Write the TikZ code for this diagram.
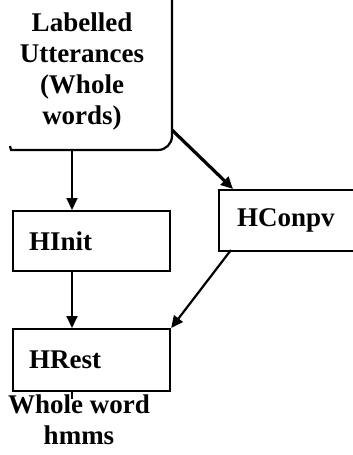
\documentclass[tikz,border=0pt]{standalone}
\usepackage{fontspec}
\setmainfont{Liberation Serif}
\usetikzlibrary{arrows.meta,calc}
\begin{document}
\begin{tikzpicture}[x=1pt,y=-1pt,
  lbl/.style={font=\fontsize{27}{31}\selectfont\bfseries},
  procbox/.style={draw,line width=2.2pt,rectangle,inner sep=0pt,lbl,align=left,anchor=north west},
  arr/.style={line width=1.8pt,-{Triangle[width=11pt,length=12pt]}},
  thickarr/.style={line width=3.2pt,-{Triangle[width=11pt,length=12pt]}},
  midarr/.style={line width=2.2pt,-{Triangle[width=11pt,length=12pt]}}]
\useasboundingbox (0,0) rectangle (353,455);
% top (partly visible) box
\node[lbl,align=center,anchor=north] (lab) at (82,9) {Labelled\\Utterances\\(Whole\\words)};
\coordinate (labbot) at (72,150);
\coordinate (labcorner) at (172,130);
\draw[line width=2.2pt] (10,146) -- (11,150) -- (158,150) arc[start angle=90,end angle=0,radius=14] -- (172,0);
% process boxes
\node[procbox,minimum width=141,minimum height=60,text width=125,inner xsep=16] (hinit) at (12,210) {HInit};
\node[procbox,minimum width=141,minimum height=62,text width=125,inner xsep=16] (hrest) at (12,328) {HRest};
\node[procbox,minimum width=142,minimum height=61,text width=124,inner xsep=18] (hcompv) at (218,189) {HConpv};
\coordinate (hcompvtop) at (233,189);
\coordinate (hcompvbot) at (231,250);
% output label
\node[lbl,align=center,anchor=north] (out) at (79,391) {Whole word\\hmms};
% connectors
\draw[arr] (labbot) -- (hinit.north -| labbot);
\draw[arr] (hinit.south -| labbot) -- (hrest.north -| labbot);
\draw[thickarr] (labcorner) -- (hcompvtop);
\draw[midarr] (hcompvbot) -- (hrest.north east);
\draw[line width=1.4pt] (hrest.south -| labbot) -- ++(0,7);
\end{tikzpicture}
\end{document}
